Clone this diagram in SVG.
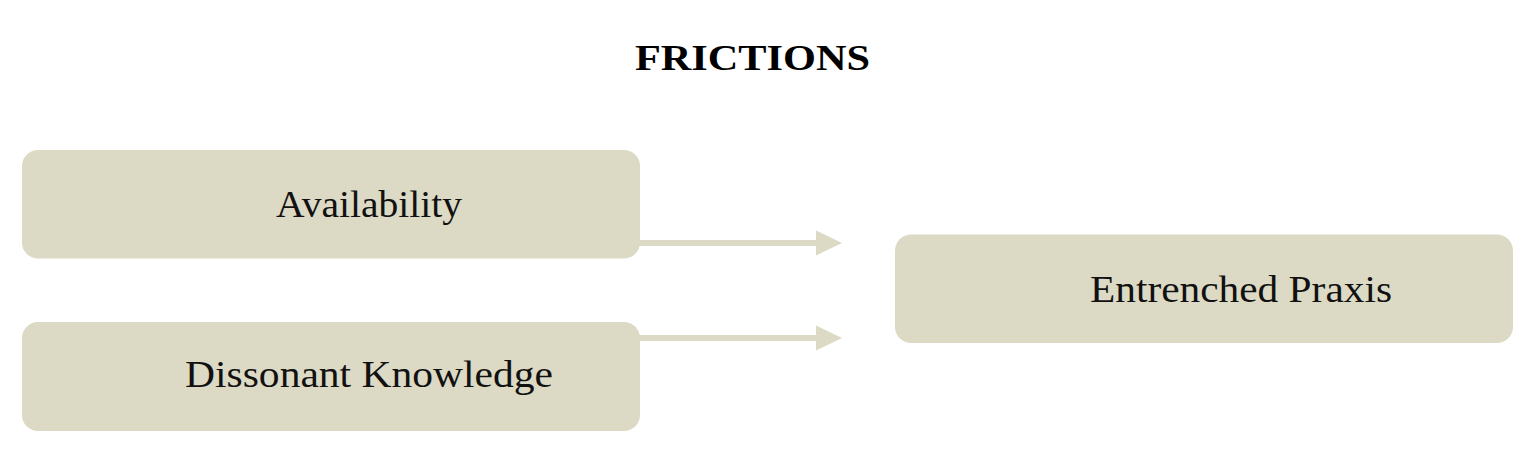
<svg xmlns="http://www.w3.org/2000/svg" width="1536" height="471" viewBox="0 0 1536 471">
<defs>
<style>
.box{fill:#DCD9C4;}
.lbl{font-family:"Liberation Serif","DejaVu Serif",serif;font-size:38px;fill:#111;}
.title{font-family:"Liberation Serif","DejaVu Serif",serif;font-size:36px;font-weight:bold;fill:#000;}
.conn{stroke:#DCD9C4;stroke-width:6;fill:none;}
.head{fill:#DCD9C4;}
</style>
</defs>
<rect width="1536" height="471" fill="#fff"/>
<text class="title" x="635" y="70" textLength="235" lengthAdjust="spacingAndGlyphs">FRICTIONS</text>
<g id="connectors">
<line class="conn" x1="638" y1="243" x2="818" y2="243"/>
<polygon class="head" points="816,230.5 842,243 816,255.5"/>
<line class="conn" x1="638" y1="338" x2="818" y2="338"/>
<polygon class="head" points="816,325.5 842,338 816,350.5"/>
</g>
<g id="availability">
<rect class="box" x="22" y="150" width="618" height="108.5" rx="16"/>
<text class="lbl" x="276" y="217" textLength="186" lengthAdjust="spacingAndGlyphs">Availability</text>
</g>
<g id="dissonant-knowledge">
<rect class="box" x="22" y="322" width="618" height="109" rx="16"/>
<text class="lbl" x="185" y="387" textLength="368" lengthAdjust="spacingAndGlyphs">Dissonant Knowledge</text>
</g>
<g id="entrenched-praxis">
<rect class="box" x="895" y="234.5" width="618" height="108.5" rx="16"/>
<text class="lbl" x="1090" y="302" textLength="302" lengthAdjust="spacingAndGlyphs">Entrenched Praxis</text>
</g>
</svg>
